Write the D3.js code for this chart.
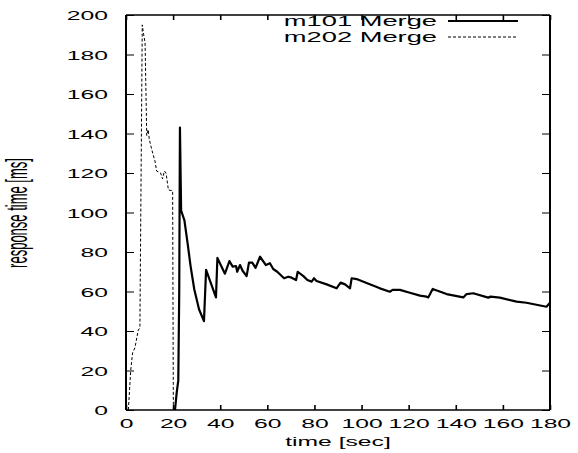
<!DOCTYPE html>
<html>
<head>
<meta charset="utf-8">
<script src="https://cdn.jsdelivr.net/npm/d3@7"></script>
<style>
  html, body { margin: 0; padding: 0; background: #fff; }
  svg { display: block; }
  text { font-family: "Liberation Sans", Arial, sans-serif; fill: #000; }
</style>
</head>
<body>
<svg id="chart" width="578" height="453"></svg>
<script>
// ---- data ----
const seriesNames = ["m101 Merge", "m202 Merge"];
const xTicks = [0, 20, 40, 60, 80, 100, 120, 140, 160, 180];
const yTicks = [0, 20, 40, 60, 80, 100, 120, 140, 160, 180, 200];
const m101 = [
  [20.8, 0], [21.5, 8.5], [22.2, 15], [22.6, 60], [22.9, 143], [23.4, 101], [24.8, 96],
  [26.2, 84], [27.4, 73], [29.0, 61], [31.0, 51], [33.1, 45], [34.0, 71],
  [38.2, 57], [38.8, 77], [42.0, 69], [43.9, 75.4], [45.3, 72.6], [46.7, 72.9],
  [47.2, 70], [48.4, 73.4], [49.5, 70.5], [51.2, 67.8], [52.2, 74.6], [53.6, 74.6],
  [55.0, 72], [56.9, 77.6], [59.4, 73.4], [61.1, 74.3], [62.5, 71.4], [64.2, 70],
  [67.1, 66.7], [68.9, 67.5], [70.3, 67], [72.2, 65.8], [72.9, 70], [75.3, 67.8],
  [77.0, 65.8], [78.8, 65], [79.8, 66.7], [80.9, 65.3], [85.2, 63.6], [89.4, 61.6],
  [91.1, 64.5], [93.0, 63.6], [95.1, 61.6], [95.8, 66.7], [97.9, 66.3], [100.0, 65.3],
  [107.8, 61.6], [112.0, 59.9], [113.2, 60.8], [116.3, 60.8], [120.5, 59.4],
  [124.8, 57.9], [127.6, 57.4], [128.3, 57], [130.2, 61.3], [136.1, 58.7],
  [143.2, 57], [144.6, 58.7], [147.4, 59.1], [153.8, 56.9], [154.8, 57.4],
  [158.7, 56.9], [165.8, 54.9], [170.0, 54.3], [178.5, 52.3], [180.0, 54.3]
];
const m202 = [
  [1.0, 0], [2.0, 20], [2.8, 29], [3.8, 31.5], [5.2, 40.5], [5.9, 41.5],
  [6.9, 195], [7.5, 190], [8.1, 186], [8.8, 139], [9.4, 142], [9.9, 137],
  [10.9, 132], [12.3, 126], [13.0, 121], [14.7, 120], [15.5, 117], [16.3, 121],
  [17.0, 120], [18.0, 111.4], [19.8, 111], [20.1, 0], [20.8, 0]
];

// ---- layout ----
const svg = d3.select("#chart");
const L = 126, R = 550, T = 15, B = 410;
const SX = 1.9;      // horizontal stretch of text
const FS = 13;

const x = d3.scaleLinear().domain([0, 180]).range([L, R]);
const y = d3.scaleLinear().domain([0, 200]).range([B, T]);

// bottom axis (labels + inward ticks)
const gx = svg.append("g").attr("transform", `translate(0,${B})`)
  .call(d3.axisBottom(x).tickValues(xTicks).tickSizeInner(-5).tickSizeOuter(0).tickPadding(10));
gx.selectAll("text").attr("font-size", FS).attr("transform", `scale(${SX},1)`)
  .attr("y", 9).attr("dy", "0.71em");
// top mirror ticks
const gt = svg.append("g").attr("transform", `translate(0,${T})`)
  .call(d3.axisTop(x).tickValues(xTicks).tickSizeInner(-5).tickSizeOuter(0).tickFormat(""));
// left axis
const gy = svg.append("g").attr("transform", `translate(${L},0)`)
  .call(d3.axisLeft(y).tickValues(yTicks).tickSizeInner(-8).tickSizeOuter(0));
gy.selectAll("text").attr("font-size", FS).attr("x", -18 / SX)
  .attr("transform", `scale(${SX},1)`).attr("dy", "0.36em");
// right mirror ticks
const gr = svg.append("g").attr("transform", `translate(${R},0)`)
  .call(d3.axisRight(y).tickValues(yTicks).tickSizeInner(-8).tickSizeOuter(0).tickFormat(""));

[gx, gt, gy, gr].forEach(g => {
  g.select(".domain").remove();
  g.selectAll("line").attr("stroke", "#000");
});
gx.selectAll("line").attr("stroke-width", 1.6);
gt.selectAll("line").attr("stroke-width", 1.6);
gy.selectAll("line").attr("stroke-width", 1);
gr.selectAll("line").attr("stroke-width", 1);

// frame
svg.append("line").attr("x1", L).attr("x2", L).attr("y1", T).attr("y2", B).attr("stroke", "#000").attr("stroke-width", 2);
svg.append("line").attr("x1", R).attr("x2", R).attr("y1", T).attr("y2", B).attr("stroke", "#000").attr("stroke-width", 2);
svg.append("line").attr("x1", L).attr("x2", R).attr("y1", T).attr("y2", T).attr("stroke", "#000").attr("stroke-width", 1.3);
svg.append("line").attr("x1", L).attr("x2", R).attr("y1", B).attr("y2", B).attr("stroke", "#000").attr("stroke-width", 1.3);

// lines
const line = d3.line().x(d => x(d[0])).y(d => y(d[1]));
svg.append("path").datum(m202).attr("d", line).attr("fill", "none")
  .attr("stroke", "#000").attr("stroke-width", 1).attr("stroke-dasharray", "3,2");
svg.append("path").datum(m101).attr("d", line).attr("fill", "none")
  .attr("stroke", "#000").attr("stroke-width", 2.2).attr("stroke-linejoin", "round");

// axis titles
svg.append("text").attr("transform", `translate(${(L + R) / 2},446) scale(${SX},1)`)
  .attr("text-anchor", "middle").attr("font-size", FS).text("time [sec]");
svg.append("text").attr("transform", `translate(27,213) scale(2.2,1) rotate(-90)`)
  .attr("text-anchor", "middle").attr("font-size", FS).text("response time [ms]");

// legend
const legY = [21, 37];
const legStyles = [{ w: 2, dash: null }, { w: 1, dash: "3,2" }];
seriesNames.forEach((name, i) => {
  svg.append("text").attr("transform", `translate(437,${legY[i]}) scale(1.95,1)`)
    .attr("text-anchor", "end").attr("dy", "0.36em").attr("font-size", 14).text(name);
  svg.append("line").attr("x1", 448).attr("x2", 518).attr("y1", legY[i]).attr("y2", legY[i])
    .attr("stroke", "#000").attr("stroke-width", legStyles[i].w)
    .attr("stroke-dasharray", legStyles[i].dash);
});
</script>
</body>
</html>
